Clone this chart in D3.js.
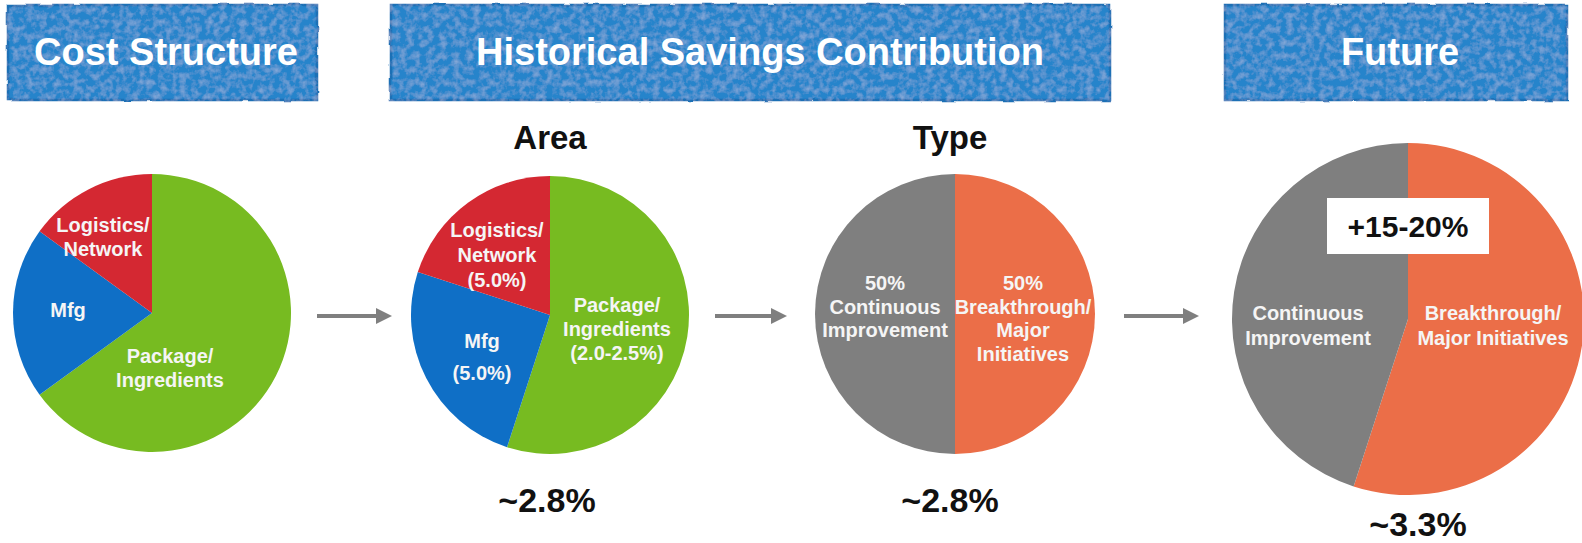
<!DOCTYPE html>
<html>
<head>
<meta charset="utf-8">
<script src="https://cdn.jsdelivr.net/npm/d3@7"></script>
<style>
  html, body { margin: 0; padding: 0; background: #fff; }
  svg { display: block; font-family: "Liberation Sans", Arial, sans-serif; font-weight: bold; }
</style>
</head>
<body>
<div id="chart"></div>
<script>
// Data
const headerTitles = ["Cost Structure", "Historical Savings Contribution", "Future"];
const subTitles = ["Area", "Type"];

const costNames = ["Package/\nIngredients", "Mfg", "Logistics/\nNetwork"];
const costShares = [65, 20, 15];

const areaNames = ["Package/\nIngredients\n(2.0-2.5%)", "Mfg\n(5.0%)", "Logistics/\nNetwork\n(5.0%)"];
const areaShares = [55, 25, 20];

const typeNames = ["50%\nBreakthrough/\nMajor\nInitiatives", "50%\nContinuous\nImprovement"];
const typeShares = [50, 50];

const futureNames = ["Breakthrough/\nMajor Initiatives", "Continuous\nImprovement"];
const futureShares = [55, 45];

const totals = ["~2.8%", "~2.8%", "~3.3%"];
const futureUplift = "+15-20%";

// Layout
const W = 1582, H = 543;
const green = "#77bb21", blue = "#0f6fc6", red = "#d42832", gray = "#7f7f7f", orange = "#eb6e48";

const svg = d3.select("#chart").append("svg")
    .attr("width", W)
    .attr("height", H);

const defs = svg.append("defs");
// chalky texture for the header boxes
const f = defs.append("filter").attr("id", "chalk")
    .attr("x", "-2%").attr("y", "-5%").attr("width", "104%").attr("height", "110%");
f.append("feTurbulence").attr("type", "fractalNoise").attr("baseFrequency", 0.05)
    .attr("numOctaves", 2).attr("seed", 3).attr("result", "warp");
f.append("feDisplacementMap").attr("in", "SourceGraphic").attr("in2", "warp")
    .attr("scale", 3).attr("xChannelSelector", "R").attr("yChannelSelector", "G").attr("result", "rough");
f.append("feTurbulence").attr("type", "fractalNoise").attr("baseFrequency", 0.15)
    .attr("numOctaves", 3).attr("seed", 7).attr("result", "grain");
f.append("feColorMatrix").attr("in", "grain").attr("type", "matrix")
    .attr("values", "0 0 0 0 1  0 0 0 0 1  0 0 0 0 1  0 0 0 -0.4 0.24").attr("result", "specks");
f.append("feComposite").attr("in", "specks").attr("in2", "rough").attr("operator", "in").attr("result", "specksIn");
f.append("feMerge").call(m => {
  m.append("feMergeNode").attr("in", "rough");
  m.append("feMergeNode").attr("in", "specksIn");
});

const headers = [
  {x0: 8, x1: 317, tx: 166},
  {x0: 391, x1: 1110, tx: 760},
  {x0: 1225, x1: 1567, tx: 1400}
];

headers.forEach((h, i) => {
  const g = svg.append("g");
  g.append("rect")
      .attr("x", h.x0).attr("y", 5)
      .attr("width", h.x1 - h.x0).attr("height", 95)
      .attr("fill", "#2784cb")
      .attr("stroke", "#1a6fb5")
      .attr("stroke-width", 2.5)
      .attr("filter", "url(#chalk)");
  g.append("text")
      .attr("x", h.tx).attr("y", 65)
      .attr("text-anchor", "middle")
      .attr("fill", "#fff")
      .attr("font-size", 38)
      .text(headerTitles[i]);
});

// sub titles
[550, 950].forEach((x, i) => {
  svg.append("text")
      .attr("x", x).attr("y", 149)
      .attr("text-anchor", "middle")
      .attr("fill", "#111")
      .attr("font-size", 33)
      .text(subTitles[i]);
});

const pies = [
  {cx: 152, cy: 313, r: 139, names: costNames, values: costShares, colors: [green, blue, red],
   labels: [[18, 50], [-84, 4], [-49, -81]], lh: 24},
  {cx: 550, cy: 315, r: 139, names: areaNames, values: areaShares, colors: [green, blue, red],
   labels: [[67, -3], [-68, 33], [-53, -78]], lh: [24, 32, 25]},
  {cx: 955, cy: 314, r: 140, names: typeNames, values: typeShares, colors: [orange, gray],
   labels: [[68, -24], [-70, -24]], lh: 23.5},
  {cx: 1408, cy: 319, r: 176, names: futureNames, values: futureShares, colors: [orange, gray],
   labels: [[85, 1], [-100, 1]], lh: 25}
];

const pie = d3.pie().sort(null).value(d => d);

pies.forEach(p => {
  const g = svg.append("g").attr("transform", `translate(${p.cx},${p.cy})`);
  const arc = d3.arc().innerRadius(0).outerRadius(p.r);
  g.selectAll("path")
    .data(pie(p.values))
    .join("path")
      .attr("d", arc)
      .attr("fill", (d, i) => p.colors[i]);

  p.names.forEach((name, i) => {
    const lh = Array.isArray(p.lh) ? p.lh[i] : p.lh;
    const t = g.append("text")
        .attr("text-anchor", "middle")
        .attr("fill", "#f5f5f5")
        .attr("font-size", 20);
    name.split("\n").forEach((line, j) => {
      t.append("tspan")
          .attr("x", p.labels[i][0])
          .attr("y", p.labels[i][1] + j * lh)
          .text(line);
    });
  });
});

// uplift box on the future pie
const fp = pies[3];
const ub = svg.append("g").attr("transform", `translate(${fp.cx},${fp.cy})`);
ub.append("rect")
    .attr("x", -81).attr("y", -121)
    .attr("width", 162).attr("height", 56)
    .attr("fill", "#fff");
ub.append("text")
    .attr("x", 0).attr("y", -82)
    .attr("text-anchor", "middle")
    .attr("fill", "#111")
    .attr("font-size", 30)
    .text(futureUplift);

// totals under the pies
[{x: 547, y: 512}, {x: 950, y: 512}, {x: 1418, y: 536}].forEach((d, i) => {
  svg.append("text")
      .attr("x", d.x).attr("y", d.y)
      .attr("text-anchor", "middle")
      .attr("fill", "#111")
      .attr("font-size", 34)
      .text(totals[i]);
});

// arrows between the pies
const arrows = [[317, 392], [715, 787], [1124, 1199]];
arrows.forEach(([x0, x1]) => {
  const y = 316;
  svg.append("line")
      .attr("x1", x0).attr("x2", x1 - 14)
      .attr("y1", y).attr("y2", y)
      .attr("stroke", "#7f7f7f")
      .attr("stroke-width", 4);
  svg.append("path")
      .attr("d", `M${x1 - 16},${y - 8}L${x1},${y}L${x1 - 16},${y + 8}Z`)
      .attr("fill", "#7f7f7f");
});
</script>
</body>
</html>
